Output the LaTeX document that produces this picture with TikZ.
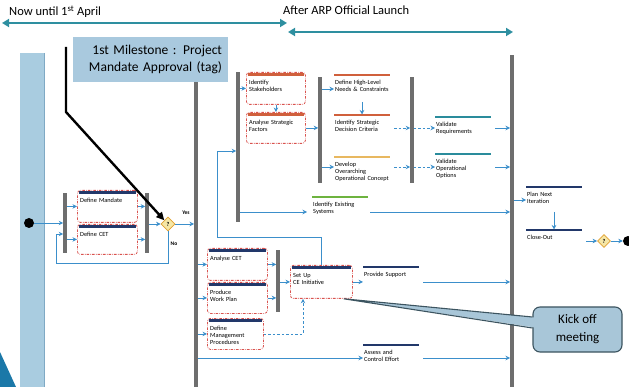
\documentclass[tikz,border=0pt]{standalone}
\usepackage{fontspec}
\setmainfont{Carlito}
\usetikzlibrary{arrows.meta,shapes.geometric,calc}
\definecolor{tealA}{HTML}{2E8FA0}
\definecolor{flowc}{HTML}{3B8FCB}
\definecolor{barg}{HTML}{6E6E6E}
\definecolor{navyb}{HTML}{22386A}
\definecolor{redd}{HTML}{D9534F}
\definecolor{orngb}{HTML}{D0603C}
\definecolor{yelb}{HTML}{E8B860}
\definecolor{grnb}{HTML}{6DB33F}
\definecolor{tealb}{HTML}{2A8C9C}
\definecolor{lblue}{HTML}{A9CCE0}
\definecolor{lbedge}{HTML}{7FA9C4}
\definecolor{msfill}{HTML}{A9C9DE}
\definecolor{kof}{HTML}{A8C6D8}
\definecolor{kob}{HTML}{3C5460}
\definecolor{dfill}{HTML}{F6E7A6}
\definecolor{dbord}{HTML}{E0A030}
\definecolor{cornr}{HTML}{1B78A8}
\newcommand\myact[7]{%
  \node[actbox, minimum width=#4pt, minimum height=#5pt] (#1) at (#2,#3) {};
  \draw[topbar, draw=#6] ([xshift=2pt,yshift=-2.5pt]#1.north west) -- ([xshift=-2pt,yshift=-2.5pt]#1.north east);
  \node[txt, text width=#4pt-6pt] (#1t) at ([xshift=2pt,yshift=-6pt]#1.north west) {#7};
}
\newcommand\myplain[5]{%
  \node[txt] (#1) at ($(#2,#3)+(0,3)$) {#5};
  \draw[topbar, draw=#4] ([yshift=3pt]#1.north west) -- ++(56,0);
}
\begin{document}
\begin{tikzpicture}[x=1pt,y=-1pt,
  gbar/.style={fill=barg, draw=none, minimum width=3.2pt, inner sep=0pt, anchor=north},
  flow/.style={draw=flowc, line width=0.7pt, -{Stealth[length=4.5pt,width=4.5pt]}},
  dflow/.style={flow, dash pattern=on 2.5pt off 2pt},
  actbox/.style={draw=redd, line width=0.8pt, dash pattern=on 2.5pt off 1.2pt on 0.6pt off 1.2pt, rounded corners=3pt, anchor=north west, inner sep=0pt, fill=white},
  txt/.style={font=\fontsize{6.3}{7}\selectfont, align=left, anchor=north west, inner xsep=1pt, inner ysep=2pt, text width=60pt},
  topbar/.style={line width=2.2pt},
  tarrow/.style={draw=tealA, line width=2.2pt, {Triangle[length=7pt,width=8pt]}-{Triangle[length=7pt,width=8pt]}},
  toptxt/.style={font=\fontsize{12.5}{15}\selectfont, anchor=west, inner sep=0pt},
  dia/.style={diamond, draw=dbord, fill=dfill, line width=0.8pt, minimum size=14pt, inner sep=0pt, font=\fontsize{6}{7}\selectfont\bfseries},
  dot/.style={circle, fill=black, minimum size=10pt, inner sep=0pt},
  lbl/.style={font=\fontsize{5.5}{6}\selectfont\bfseries, inner sep=0pt}
]
\useasboundingbox (0,0) rectangle (629,387);
% left band and corner
\node[fill=lblue, draw=none, minimum width=24pt, minimum height=334pt, anchor=north west, inner sep=0pt] (lb) at (20,53) {};
\draw[lbedge, line width=1pt] (lb.north east) -- (lb.south east);
\fill[cornr] (0,352) -- (16,387) -- (0,387) -- cycle;
% top arrows and texts
\node[toptxt] (t1) at (9,12) {Now until 1\textsuperscript{st} April};
\node[toptxt] (t2) at (283,10) {After ARP Official Launch};
\coordinate (a1l) at (2,23); \coordinate (a1r) at (287,23);
\coordinate (a2l) at (288,32); \coordinate (a2r) at (513,32);
\draw[tarrow] (a1l) -- (a1r);
\draw[tarrow] (a2l) -- (a2r);
% main bars
\node[gbar, minimum width=3.6pt, minimum height=305pt] (mb) at (196,82) {};
\node[gbar, minimum width=3.6pt, minimum height=332pt] (mb2) at (512,55) {};
% milestone box
\node[fill=msfill, minimum width=155pt, minimum height=45pt, text width=143pt, align=right, inner sep=3pt, font=\fontsize{13.5}{17.5}\selectfont] (ms) at (150.5,59.5) {1st Milestone : Project\\Mandate Approval (tag)};
% section 1
\node[dot] (s) at (29,223) {};
\node[gbar, minimum height=60pt] (b1) at (65,193) {};
\node[gbar, minimum height=60pt] (b2) at (147,193) {};
\myact{dm}{77}{190}{60}{32}{navyb}{Define Mandate}
\myact{dc}{77}{224}{60}{30}{navyb}{Define CET}
\node[dia] (q1) at (168,224) {?};
\node[lbl] (yes) at (186,213) {Yes};
\node[lbl] (no) at (174,244) {No};
\draw[flow] (s) -- (b1.west |- s);
\draw[flow] (b1.east |- dm.west) -- (dm.west);
\draw[flow] (b1.east |- dc.west) -- (dc.west);
\draw[flow] (dm.east) -- (b2.west |- dm.east);
\draw[flow] (dc.east) -- (b2.west |- dc.east);
\draw[flow] (b2.east |- q1) -- (q1.west);
\draw[flow] (q1.east) -- (mb.west |- q1);
\draw[flow] (q1.south) |- (56,263) |- (b1.west |- 0,234);
\coordinate (mp) at (66,47);
\draw[black, line width=2.4pt, -{Triangle[length=8pt,width=7.5pt]}] (mp) -- (66,112) -- (q1.north west);
% section 2
\node[gbar, minimum height=150pt] (b3) at (238,72) {};
\node[gbar, minimum height=106pt] (b4) at (320,77) {};
\node[gbar, minimum height=106pt] (b5) at (412,77) {};
\myact{is}{246}{72}{59}{32}{orngb}{Identify\\Stakeholders}
\myact{as}{246}{112}{59}{31}{orngb}{Analyse Strategic\\Factors}
\myplain{dhl}{334}{75}{orngb}{Define High-Level\\Needs \& Constraints}
\myplain{isd}{334}{115}{orngb}{Identify Strategic\\Decision Criteria}
\myplain{doc}{334}{157}{yelb}{Develop\\Overarching\\Operational Concept}
\myplain{vr}{435}{117}{tealb}{Validate\\Requirements}
\myplain{vo}{435}{154}{tealb}{Validate\\Operational\\Options}
\myplain{ies}{312}{197}{grnb}{Identify Existing\\Systems}
\myplain{pni}{526}{187}{navyb}{Plan Next\\Iteration}
\myplain{co}{526}{230}{navyb}{Close-Out}
\node[dia, minimum size=13pt] (q2) at (604,241) {?};
\node[dot] (e) at (628,241) {};
\draw[flow] (b3.east |- is.west) -- (is.west);
\draw[flow] (is.south) -- (as.north);
\draw[flow] (as.east) -- (b4.west |- as.east);
\draw[flow] (b4.east |- 0,89) -- (dhl.west |- 0,89);
\draw[flow] ([xshift=28pt]isd.north west |- 0,102) -- ([xshift=28pt,yshift=3.5pt]isd.north west);
\draw[flow] (b4.east |- 0,167) -- (doc.west |- 0,167);
\draw[dflow] ([xshift=60pt]isd.west |- 0,128) -- (b5.west |- 0,128);
\draw[dflow] (b5.east |- 0,128) -- (vr.west |- 0,128);
\draw[dflow] ([xshift=60pt]doc.west |- 0,167) -- (b5.west |- 0,167);
\draw[dflow] (b5.east |- 0,167) -- (vo.west |- 0,167);
\draw[flow] ([xshift=60pt]vr.west |- 0,128) -- (mb2.west |- 0,128);
\draw[flow] ([xshift=60pt]vo.west |- 0,167) -- (mb2.west |- 0,167);
\draw[flow] (b3.east |- 0,212) -- ([xshift=-5pt]ies.west |- 0,212);
\draw[flow] ([xshift=58pt]ies.west |- 0,212) -- (mb2.west |- 0,212);
\draw[flow] (mb2.east |- 0,200) -- (pni.west |- 0,200);
\draw[flow] ([xshift=28pt]pni.north west |- 0,212) -- ([xshift=28pt,yshift=3.5pt]co.north west);
\draw[flow] ([xshift=60pt]co.west |- 0,241) -- (q2.west);
\draw[flow] (q2.east) -- (e.west);
% section 3
\node[gbar, minimum height=62pt] (b6) at (278,250) {};
\myact{ac}{207}{248}{60}{32}{navyb}{Analyse CET}
\myact{pw}{207}{282}{60}{31}{navyb}{Produce\\Work Plan}
\myact{dmp}{207}{318}{56}{31}{navyb}{Define\\Management\\Procedures}
\myact{su}{290}{265}{62}{33}{navyb}{Set Up\\CE Initiative}
\myplain{ps}{363}{267}{navyb}{Provide Support}
\myplain{acf}{363}{345}{navyb}{Assess and\\Control Effort}
\draw[flow] (mb.east |- ac.west) -- (ac.west);
\draw[flow] (mb.east |- pw.west) -- (pw.west);
\draw[flow] (mb.east |- dmp.west) -- (dmp.west);
\draw[flow] (ac.east) -- (b6.west |- ac.east);
\draw[flow] (pw.east) -- (b6.west |- pw.east);
\draw[flow] (b6.east |- su.west) -- (su.west);
\draw[dflow] (dmp.east) -| ([xshift=13pt]su.south west);
\draw[flow] (su.north) |- (217,237) |- (b3.west |- 0,151);
\draw[flow] (su.east) -- (ps.west |- su.east);
\draw[flow] ([xshift=60pt]ps.west |- 0,282) -- (mb2.west |- 0,282);
\draw[flow] (mb.east |- 0,358) -- (acf.west |- 0,358);
\draw[flow] ([xshift=60pt]acf.west |- 0,358) -- (mb2.west |- 0,358);
% kick off callout
\node[draw=kob, fill=kof, line width=1.1pt, rounded corners=7pt, minimum width=89pt, minimum height=45pt, align=center, font=\fontsize{13}{18}\selectfont] (ko) at (577.5,329.5) {Kick off\\meeting};
\coordinate (tip) at ([xshift=-9pt]su.south east);
\fill[kof] (535,317.5) -- (tip) -- (535,327.5) -- cycle;
\draw[kob, line width=1.1pt] (ko.west |- 0,317) -- (tip) -- (ko.west |- 0,328);
\end{tikzpicture}
\end{document}
